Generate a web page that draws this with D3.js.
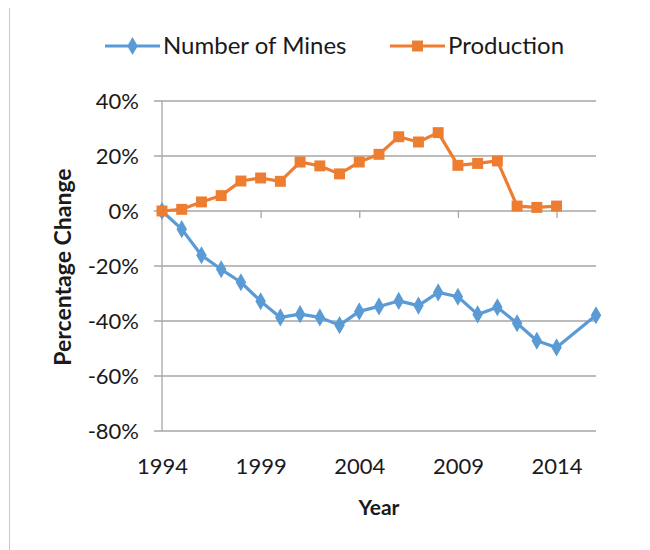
<!DOCTYPE html>
<html>
<head>
<meta charset="utf-8">
<script src="https://cdn.jsdelivr.net/npm/d3@7"></script>
<style>
  body { margin: 0; background: #fff; }
  text { font-family: Lato, "Open Sans", sans-serif; fill: #1a1a1a; }
</style>
</head>
<body>
<div id="chart"></div>
<script>
// data (percentage change since 1994)
var years = [1994, 1995, 1996, 1997, 1998, 1999, 2000, 2001, 2002, 2003, 2004,
  2005, 2006, 2007, 2008, 2009, 2010, 2011, 2012, 2013, 2014, 2015, 2016];
var mines = [0, -6.6, -16.1, -21.2, -25.9, -32.8, -38.7, -37.5, -38.7, -41.5, -36.5,
  -34.7, -32.7, -34.4, -29.6, -31.2, -37.6, -35.0, -40.8, -47.2, -49.6, null, -37.9];
var production = [0, 0.6, 3.3, 5.6, 10.9, 12.0, 10.8, 17.8, 16.4, 13.5, 17.8,
  20.6, 27.0, 25.1, 28.5, 16.6, 17.3, 18.2, 1.8, 1.3, 1.8, null, null];
var yTicks = [40, 20, 0, -20, -40, -60, -80];
var xTicks = [1994, 1999, 2004, 2009, 2014];

var width = 650, height = 550;
var margin = { top: 101, right: 54, bottom: 119, left: 162 };

var svg = d3.select("#chart")
  .append("svg")
  .attr("width", width)
  .attr("height", height);

// thin frame line on the left edge
svg.append("line")
  .attr("x1", 9.5).attr("x2", 9.5)
  .attr("y1", 8).attr("y2", height)
  .attr("stroke", "#c8c8c8")
  .attr("stroke-width", 1);

var x = d3.scaleLinear()
  .domain([1994, 2016])
  .range([margin.left, width - margin.right]);

var y = d3.scaleLinear()
  .domain([-80, 40])
  .range([height - margin.bottom, margin.top]);

// gridlines
svg.append("g")
  .selectAll("line")
  .data(yTicks)
  .enter()
  .append("line")
  .attr("x1", x(1994) - 8)
  .attr("x2", x(2016))
  .attr("y1", function (d) { return y(d); })
  .attr("y2", function (d) { return y(d); })
  .attr("stroke", "#a6a6a6")
  .attr("stroke-width", 1.3);

// y axis
var yAxis = svg.append("g")
  .attr("transform", "translate(" + x(1994) + ",0)")
  .call(d3.axisLeft(y).tickValues(yTicks).tickSize(0).tickPadding(23)
    .tickFormat(function (d) { return d + "%"; }));
yAxis.select(".domain").remove();
yAxis.selectAll("text")
  .style("font-size", "22px")
  .attr("dy", "0.35em");

svg.append("line")
  .attr("x1", x(1994)).attr("x2", x(1994))
  .attr("y1", y(40)).attr("y2", y(-80))
  .attr("stroke", "#a6a6a6")
  .attr("stroke-width", 1.3);

// x tick marks on the zero line
var xTickMarks = svg.append("g")
  .attr("transform", "translate(0," + y(0) + ")")
  .call(d3.axisBottom(x).tickValues(xTicks).tickSize(7).tickFormat(""));
xTickMarks.select(".domain").remove();
xTickMarks.selectAll("line").attr("stroke", "#a6a6a6").attr("stroke-width", 1.3);

// x tick labels below the plot
var xLabels = svg.append("g")
  .attr("transform", "translate(0," + y(-80) + ")")
  .call(d3.axisBottom(x).tickValues(xTicks).tickSize(0).tickPadding(35)
    .tickFormat(d3.format("d")));
xLabels.select(".domain").remove();
xLabels.selectAll("text")
  .style("font-size", "22px")
  .attr("dy", "0.35em");

// axis titles
svg.append("text")
  .attr("x", (x(1994) + x(2016)) / 2)
  .attr("y", 515)
  .attr("text-anchor", "middle")
  .style("font-size", "21px")
  .style("font-weight", "bold")
  .text("Year");

svg.append("text")
  .attr("transform", "translate(71," + 267 + ")rotate(-90)")
  .attr("text-anchor", "middle")
  .style("font-size", "23px")
  .style("font-weight", "bold")
  .text("Percentage Change");

var blue = "#5b9bd5", orange = "#ed7d31";

function seriesPoints(values) {
  return years.map(function (yr, i) { return { year: yr, value: values[i] }; })
    .filter(function (d) { return d.value !== null; });
}

var line = d3.line()
  .x(function (d) { return x(d.year); })
  .y(function (d) { return y(d.value); });

var diamond = d3.symbol().type(d3.symbolDiamond).size(95);
var square = d3.symbol().type(d3.symbolSquare).size(120);

function drawSeries(values, color, symbol) {
  var pts = seriesPoints(values);
  svg.append("path")
    .datum(pts)
    .attr("d", line)
    .attr("fill", "none")
    .attr("stroke", color)
    .attr("stroke-width", 3.2)
    .attr("stroke-linejoin", "round");
  svg.append("g")
    .selectAll("path")
    .data(pts)
    .enter()
    .append("path")
    .attr("d", symbol)
    .attr("transform", function (d) { return "translate(" + x(d.year) + "," + y(d.value) + ")"; })
    .attr("fill", color);
}

drawSeries(mines, blue, diamond);
drawSeries(production, orange, square);

// legend
var legend = [
  { name: "Number of Mines", color: blue, symbol: diamond, x: 105 },
  { name: "Production", color: orange, symbol: square, x: 390 }
];
var lg = svg.append("g").attr("transform", "translate(0,46)");
legend.forEach(function (d) {
  lg.append("line")
    .attr("x1", d.x).attr("x2", d.x + 55)
    .attr("stroke", d.color)
    .attr("stroke-width", 3.2);
  lg.append("path")
    .attr("d", d.symbol)
    .attr("transform", "translate(" + (d.x + 27.5) + ",0)")
    .attr("fill", d.color);
  lg.append("text")
    .attr("x", d.x + 58)
    .attr("dy", "0.35em")
    .style("font-size", "24px")
    .text(d.name);
});
</script>
</body>
</html>
